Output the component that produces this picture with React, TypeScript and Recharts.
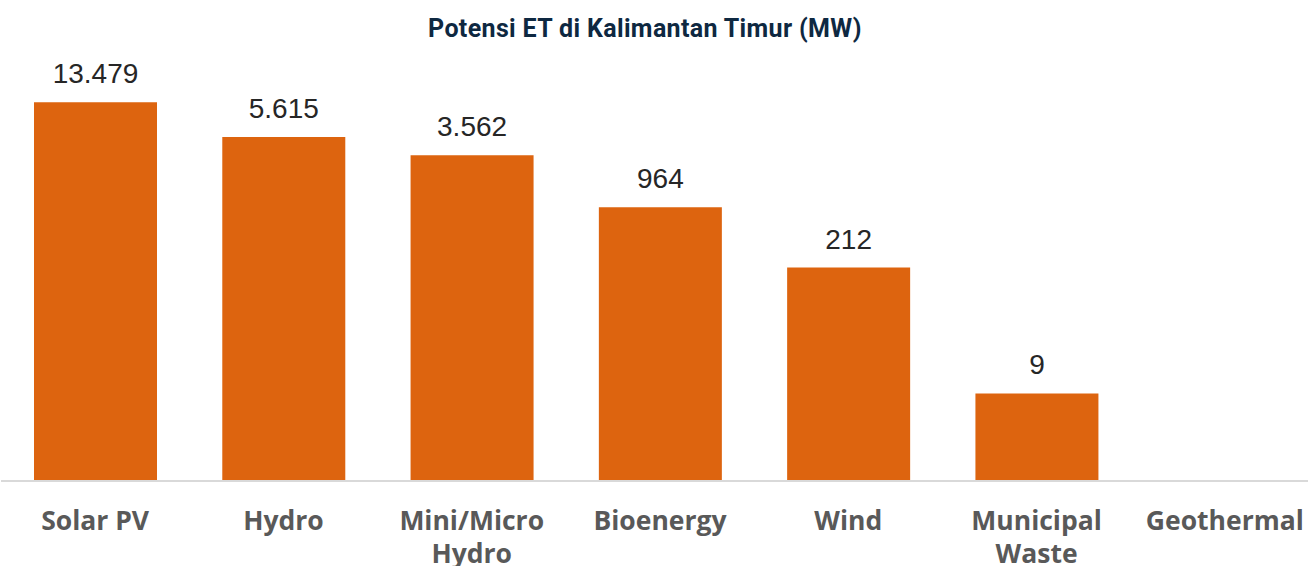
import React from 'react';
import { BarChart, Bar, XAxis, YAxis, LabelList } from 'recharts';

const categories = ['Solar PV', 'Hydro', 'Mini/Micro Hydro', 'Bioenergy', 'Wind', 'Municipal Waste', 'Geothermal'];
const potentials: (number | null)[] = [13479, 5615, 3562, 964, 212, 9, null];

const data = categories.map((name, i) => ({ name, value: potentials[i] }));

const fmt = (v: any) => (v == null ? '' : Number(v).toLocaleString('de-DE'));

const CategoryTick = (props: any) => {
  const { x, y, payload } = props;
  const label: string = String(payload.value);
  let lines = [label];
  if (label.length > 12 && label.includes(' ')) {
    const idx = label.lastIndexOf(' ');
    lines = [label.slice(0, idx), label.slice(idx + 1)];
  }
  return (
    <text
      x={x}
      y={y + 49}
      textAnchor="middle"
      fill="#595959"
      style={{ fontFamily: '"Open Sans", sans-serif', fontWeight: 700, fontSize: 26.5 }}
    >
      {lines.map((l, i) => (
        <tspan key={i} x={x} dy={i === 0 ? 0 : 33}>
          {l}
        </tspan>
      ))}
    </text>
  );
};

export default function App() {
  return (
    <div style={{ position: 'fixed', top: 0, left: 0, width: 1308, height: 566, overflow: 'hidden', background: '#fff' }}>
      <div
        style={{
          position: 'absolute',
          top: 14,
          left: 0,
          width: 1290,
          textAlign: 'center',
          fontFamily: 'Roboto, sans-serif',
          fontWeight: 700,
          fontSize: 25,
          lineHeight: '30px',
          color: '#0E2841',
          letterSpacing: 0.35,
        }}
      >
        Potensi ET di Kalimantan Timur (MW)
      </div>
      <BarChart width={1320} height={566} data={data} margin={{ top: 50, right: 1, bottom: 0, left: 1 }}>
        <XAxis
          dataKey="name"
          height={85}
          tickLine={false}
          tickSize={0}
          tickMargin={0}
          axisLine={{ stroke: '#d9d9d9', strokeWidth: 2 }}
          tick={<CategoryTick />}
          interval={0}
        />
        <YAxis hide scale="log" domain={[1, 50000]} allowDataOverflow type="number" />
        <Bar dataKey="value" fill="#DD640F" barSize={123} isAnimationActive={false}>
          <LabelList
            dataKey="value"
            position="top"
            offset={19}
            formatter={fmt}
            style={{ fontFamily: '"Liberation Sans", Arial, sans-serif', fontSize: 28, fill: '#262626' }}
          />
        </Bar>
      </BarChart>
    </div>
  );
}
